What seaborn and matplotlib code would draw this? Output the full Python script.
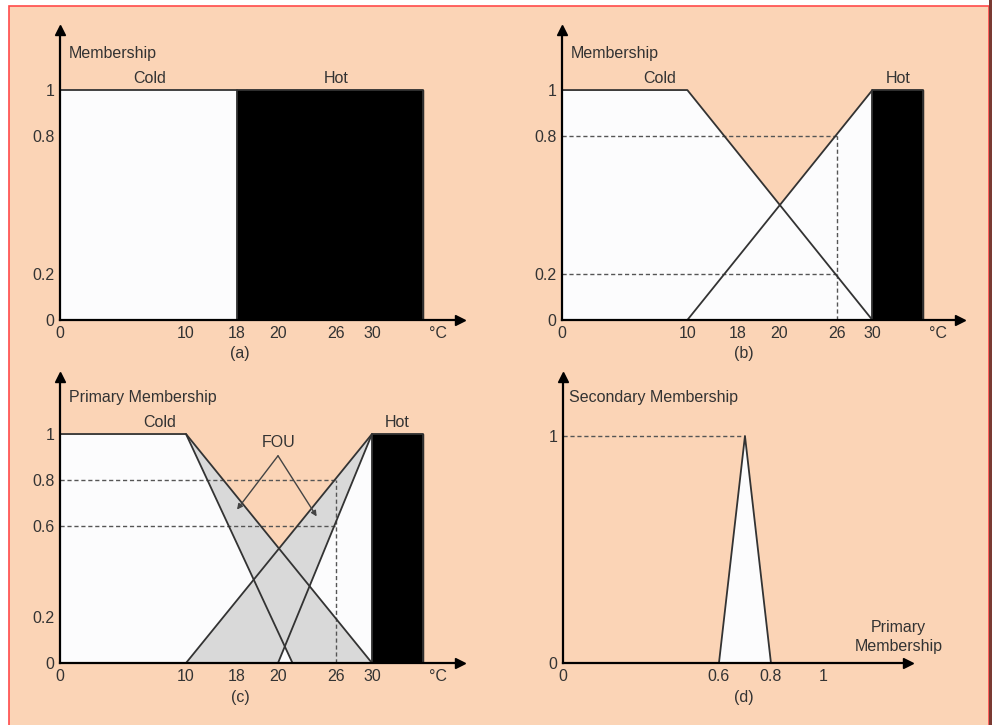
import numpy as np
import matplotlib
matplotlib.use("Agg")
import matplotlib.pyplot as plt
from matplotlib.patches import Rectangle
import pandas as pd
import seaborn as sns

# --- data ---------------------------------------------------------------
temp_ticks = [0, 10, 18, 20, 26, 30]
temp_tick_labels = ["0", "10", "18", "20", "26", "30"]
mu_ticks_ab = [0, 0.2, 0.8, 1]
mu_labels_ab = ["0", "0.2", "0.8", "1"]
mu_ticks_c = [0, 0.2, 0.6, 0.8, 1]
mu_labels_c = ["0", "0.2", "0.6", "0.8", "1"]

# (a) crisp sets
crisp_cold_x = [0, 18]
crisp_hot_x = [18, 35]

# (b) type-1 fuzzy sets
cold_x = [0, 10, 30]
cold_mu = [1, 1, 0]
hot_x = [10, 30]
hot_mu = [0, 1]
hot_block_x = [30, 35]

# (c) interval type-2: lower membership functions
cold_lower_x = [10, 21.5]
cold_lower_mu = [1, 0]
hot_lower_x = [20, 30]
hot_lower_mu = [0, 1]

probe_temp = 26
probe_mu_b = [0.8, 0.2]
probe_mu_c = [0.8, 0.6]

# (d) secondary membership at 26 °C
sec_x = [0.6, 0.7, 0.8]
sec_mu = [0, 1, 0]
sec_ticks = [0, 0.6, 0.8, 1]
sec_tick_labels = ["0", "0.6", "0.8", "1"]

# --- look ------------------------------------------------------------------
PEACH = "#fbd4b6"
INK = "#333333"
GRAY = "#d9d9d9"
WHITE = "#fcfcfd"
FS = 11.5

# the temperature axis of the drawing is a schematic, not linear
scale_temp = [0, 10, 18, 20, 26, 30, 35, 40]
scale_pos = [0, 126, 177, 218, 276, 312, 363, 400]


def fwd(v):
    return np.interp(np.asarray(v, dtype=float), scale_temp, scale_pos)


def inv(p):
    return np.interp(np.asarray(p, dtype=float), scale_pos, scale_temp)


def crossing(x0, x1, a0, a1, b0, b1):
    # where two straight segments over [x0, x1] meet
    d0, d1 = a0 - b0, a1 - b1
    xc = x0 + (x1 - x0) * d0 / (d0 - d1)
    return xc, a0 + (a1 - a0) * (xc - x0) / (x1 - x0)


def draw_lines(ax, segments, lw=1.3):
    rows = []
    for k, (xs, ys) in enumerate(segments):
        for x, y in zip(xs, ys):
            rows.append((k, x, y))
    df = pd.DataFrame(rows, columns=["seg", "x", "y"])
    sns.lineplot(data=df, x="x", y="y", units="seg", estimator=None, sort=False,
                 color=INK, lw=lw, ax=ax, legend=False, zorder=5)


def style_axes(ax, xt, xl, yt, yl):
    ax.set_facecolor("none")
    for s in ["top", "right"]:
        ax.spines[s].set_visible(False)
    for s in ["left", "bottom"]:
        ax.spines[s].set_color("black")
        ax.spines[s].set_linewidth(1.6)
        ax.spines[s].set_zorder(6)
    ax.plot(1, 0, ">k", ms=7, transform=ax.get_yaxis_transform(), clip_on=False)
    ax.plot(0, 1, "^k", ms=7, transform=ax.get_xaxis_transform(), clip_on=False)
    ax.set_xticks(xt, xl)
    ax.set_yticks(yt, yl)
    ax.tick_params(length=0, pad=4, labelsize=FS, labelcolor=INK)
    ax.set_xlabel("")
    ax.set_ylabel("")


def dashed(ax, xs, ys):
    ax.plot(xs, ys, color="#555555", lw=1, ls=(0, (3, 2)), zorder=3)


sns.set_style("white")
plt.rcParams["font.family"] = ["Liberation Sans", "DejaVu Sans"]

fig = plt.figure(figsize=(9.92, 7.25), dpi=100, facecolor="white")
fig.patches.append(Rectangle((9 / 992, -0.01), 980 / 992, 1 - 6 / 725 + 0.01,
                             transform=fig.transFigure, facecolor=PEACH,
                             edgecolor="#ff4a4a", lw=1.2, zorder=-10))
fig.patches.append(Rectangle((989 / 992, 0), 3 / 992, 1, transform=fig.transFigure,
                             facecolor="#7a3a32", edgecolor="none", zorder=-9))

ax_a = fig.add_axes([0.0605, 0.5586, 0.4032, 0.40])
ax_b = fig.add_axes([0.5665, 0.5586, 0.4012, 0.40])
ax_c = fig.add_axes([0.0605, 0.0855, 0.4032, 0.3945])
ax_d = fig.add_axes([0.5675, 0.0855, 0.3478, 0.3945])

for ax in (ax_a, ax_b, ax_c):
    ax.set_xscale("function", functions=(fwd, inv))

# ---- (a) crisp ------------------------------------------------------------
ax = ax_a
ax.fill_between(crisp_cold_x, 0, 1, color=WHITE, zorder=1)
ax.fill_between(crisp_hot_x, 0, 1, color="black", zorder=2)
draw_lines(ax, [([crisp_cold_x[0], crisp_cold_x[1], crisp_cold_x[1]], [1, 1, 0]),
                ([crisp_hot_x[0], crisp_hot_x[1], crisp_hot_x[1]], [1, 1, 0])])
style_axes(ax, temp_ticks, temp_tick_labels, mu_ticks_ab, mu_labels_ab)
ax.set_xlim(0, 40)
ax.set_ylim(0, 1.261)
ax.text(0.7, 1.157, "Membership", ha="left", va="center", fontsize=FS, color=INK)
ax.text(7.1, 1.052, "Cold", ha="center", va="center", fontsize=FS, color=INK)
ax.text(26, 1.052, "Hot", ha="center", va="center", fontsize=FS, color=INK)
ax.text(37, 0, "°C", ha="center", va="top", fontsize=FS, color=INK,
        transform=ax.transData + matplotlib.transforms.ScaledTranslation(0, -4 / 72, fig.dpi_scale_trans))
ax.text(0.45, -0.114, "(a)", transform=ax.transAxes, ha="center", va="center",
        fontsize=FS, color=INK)

# ---- (b) type-1 -------------------------------------------------------------
ax = ax_b
xc, yc = crossing(cold_x[1], cold_x[2], cold_mu[1], cold_mu[2], hot_mu[0], hot_mu[1])
env_x = [cold_x[0], cold_x[1], xc, hot_x[1]]
env_y = [cold_mu[0], cold_mu[1], yc, hot_mu[1]]
ax.fill_between(env_x, 0, env_y, color=WHITE, lw=0, zorder=1)
ax.fill_between(hot_block_x, 0, 1, color="black", zorder=4)
for m in probe_mu_b:
    dashed(ax, [0, probe_temp], [m, m])
dashed(ax, [probe_temp, probe_temp], [0, max(probe_mu_b)])
draw_lines(ax, [(cold_x, cold_mu), (hot_x, hot_mu),
                ([hot_block_x[0], hot_block_x[0], hot_block_x[1], hot_block_x[1]], [0, 1, 1, 0])])
style_axes(ax, temp_ticks, temp_tick_labels, mu_ticks_ab, mu_labels_ab)
ax.set_xlim(0, 40)
ax.set_ylim(0, 1.261)
ax.text(0.7, 1.157, "Membership", ha="left", va="center", fontsize=FS, color=INK)
ax.text(7.8, 1.052, "Cold", ha="center", va="center", fontsize=FS, color=INK)
ax.text(32.5, 1.052, "Hot", ha="center", va="center", fontsize=FS, color=INK)
ax.text(37, 0, "°C", ha="center", va="top", fontsize=FS, color=INK,
        transform=ax.transData + matplotlib.transforms.ScaledTranslation(0, -4 / 72, fig.dpi_scale_trans))
ax.text(0.457, -0.114, "(b)", transform=ax.transAxes, ha="center", va="center",
        fontsize=FS, color=INK)

# ---- (c) interval type-2 ---------------------------------------------------
ax = ax_c
ax.fill_between(env_x, 0, env_y, color=WHITE, lw=0, zorder=1)
ax.fill([cold_x[1], cold_x[2], cold_lower_x[1]], [cold_mu[1], cold_mu[2], cold_lower_mu[1]],
        color=GRAY, lw=0, zorder=2)
ax.fill([hot_x[0], hot_x[1], hot_lower_x[0]], [hot_mu[0], hot_mu[1], hot_lower_mu[0]],
        color=GRAY, lw=0, zorder=2)
ax.fill_between(hot_block_x, 0, 1, color="black", zorder=4)
for m in probe_mu_c:
    dashed(ax, [0, probe_temp], [m, m])
dashed(ax, [probe_temp, probe_temp], [0, max(probe_mu_c)])
draw_lines(ax, [(cold_x, cold_mu), (hot_x, hot_mu),
                (cold_lower_x, cold_lower_mu), (hot_lower_x, hot_lower_mu),
                ([hot_block_x[0], hot_block_x[0], hot_block_x[1], hot_block_x[1]], [0, 1, 1, 0])])
style_axes(ax, temp_ticks, temp_tick_labels, mu_ticks_c, mu_labels_c)
ax.set_xlim(0, 40)
ax.set_ylim(0, 1.249)
ax.text(0.7, 1.16, "Primary Membership", ha="left", va="center", fontsize=FS, color=INK)
ax.text(7.9, 1.05, "Cold", ha="center", va="center", fontsize=FS, color=INK)
ax.text(32.5, 1.05, "Hot", ha="center", va="center", fontsize=FS, color=INK)
ax.text(20.1, 0.965, "FOU", ha="center", va="center", fontsize=FS, color=INK)
for tx, ty in [(18, 0.67), (24, 0.64)]:
    ax.annotate("", xy=(tx, ty), xytext=(20, 0.905),
                arrowprops=dict(arrowstyle="-|>", color="#444444", lw=1,
                                mutation_scale=8, shrinkA=0, shrinkB=0), zorder=7)
ax.text(37, 0, "°C", ha="center", va="top", fontsize=FS, color=INK,
        transform=ax.transData + matplotlib.transforms.ScaledTranslation(0, -4 / 72, fig.dpi_scale_trans))
ax.text(0.45, -0.119, "(c)", transform=ax.transAxes, ha="center", va="center",
        fontsize=FS, color=INK)

# ---- (d) secondary MF ---------------------------------------------------------
ax = ax_d
ax.fill(sec_x, sec_mu, color=WHITE, lw=0, zorder=1)
dashed(ax, [0, sec_x[1]], [max(sec_mu), max(sec_mu)])
draw_lines(ax, [(sec_x, sec_mu)])
style_axes(ax, sec_ticks, sec_tick_labels, [0, 1], ["0", "1"])
ax.set_xlim(0, 1.327)
ax.set_ylim(0, 1.26)
ax.text(0.023, 1.17, "Secondary Membership", ha="left", va="center", fontsize=FS,
        color=INK, transform=ax.get_yaxis_transform() if False else ax.transData)
ax.text(1.29, 0.115, "Primary\nMembership", ha="center", va="center", fontsize=FS,
        color=INK, linespacing=1.3)
ax.text(0.525, -0.119, "(d)", transform=ax.transAxes, ha="center", va="center",
        fontsize=FS, color=INK)

fig.savefig("out.png", dpi=100, facecolor=fig.get_facecolor())
